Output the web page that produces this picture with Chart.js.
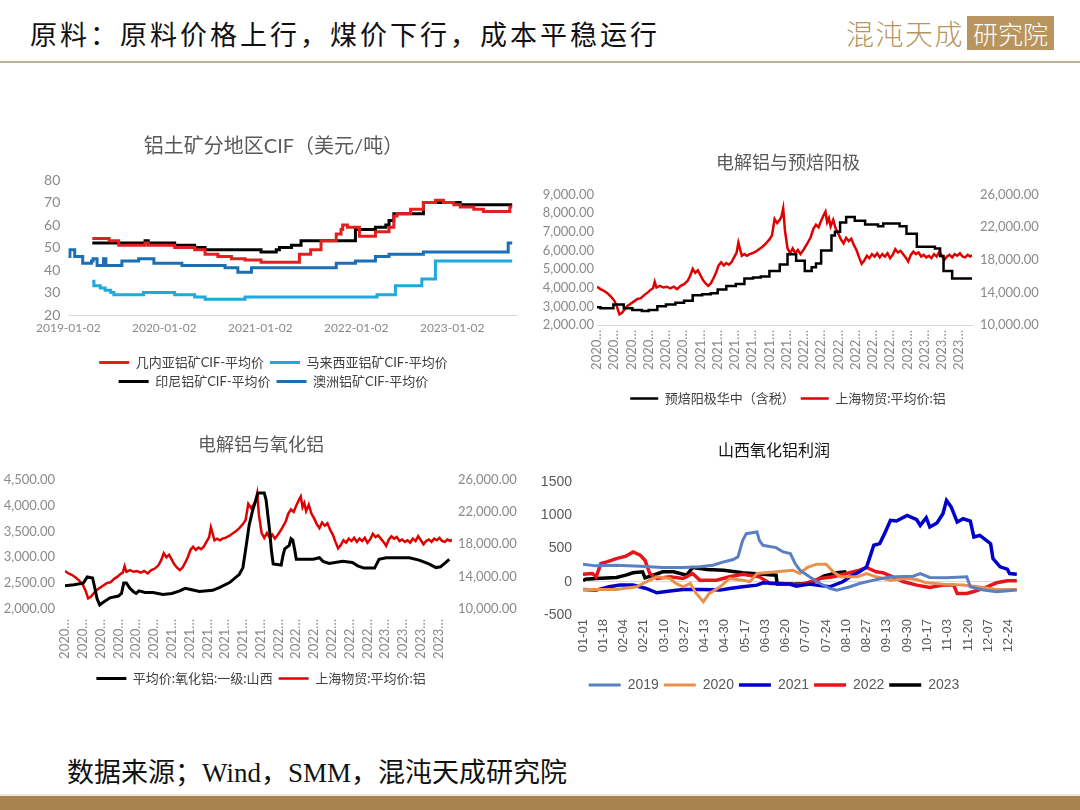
<!DOCTYPE html>
<html>
<head>
<meta charset="utf-8">
<script src="https://cdn.jsdelivr.net/npm/chart.js@4.4.0/dist/chart.umd.min.js"></script>
<style>
  body { margin: 0; width: 1080px; height: 810px; background: #fff; position: relative; overflow: hidden; font-family: "Liberation Serif", "Noto Sans CJK SC", serif; }
  canvas { position: absolute; }
  #head { position: absolute; left: 30px; top: 17px; font-size: 27px; letter-spacing: 3px; color: #111; line-height: 38px; white-space: nowrap; }
  #logo { position: absolute; left: 846px; top: 16px; height: 34px; white-space: nowrap; }
  #lg1 { display: inline-block; color: #b8955e; font-family: "Noto Sans CJK SC"; font-size: 28px; font-weight: 300; letter-spacing: 1.5px; line-height: 34px; vertical-align: top; }
  #lg2 { display: inline-block; background: #b8955e; color: #fff; font-family: "Noto Sans CJK SC"; font-size: 25px; font-weight: 300; line-height: 34px; padding: 0 6px; margin-left: 3px; vertical-align: top; }
  #rule { position: absolute; left: 0; top: 61px; width: 1080px; height: 2px; background: #bfb29c; }
  #src { position: absolute; left: 67px; top: 755px; font-size: 27px; color: #111; line-height: 36px; white-space: nowrap; }
  #barline { position: absolute; left: 0; top: 794px; width: 1080px; height: 2px; background: #eee4d4; }
  #bar { position: absolute; left: 0; top: 796px; width: 1080px; height: 14px; background: #a8834f; }
</style>
</head>
<body>
<div id="head">原料：原料价格上行，煤价下行，成本平稳运行</div>
<div id="logo"><span id="lg1">混沌天成</span><span id="lg2">研究院</span></div>
<div id="rule"></div>

<canvas id="c1" width="500" height="270" style="left:30px;top:130px"></canvas>
<canvas id="c2" width="540" height="270" style="left:530px;top:150px"></canvas>
<canvas id="c3" width="530" height="270" style="left:0px;top:430px"></canvas>
<canvas id="c4" width="550" height="280" style="left:530px;top:430px"></canvas>

<div id="src">数据来源；Wind，SMM，混沌天成研究院</div>
<div id="barline"></div>
<div id="bar"></div>

<script>
// ---- chart 1: bauxite CIF, x = months since 2019-01 ----
var guineaM = [3, 5.1, 6.3, 9.6, 10, 13.3, 15.8, 17.1, 18.7, 20.4,
  22.1, 24.1, 28.9, 30.3, 31.6, 33.5, 34.1, 34.3, 34.9, 36.4,
  38.4, 40.1, 40.7, 41.1, 42.8, 44.4, 45.9, 46.9, 48.2, 49.0,
  50.7, 51.9, 55.2, 55.5];
var guineaV = [54, 53, 51, 52, 51, 50, 49, 47, 46, 45,
  44.5, 43.5, 47, 49, 53, 56, 58, 60, 59, 55,
  57, 59, 64, 65, 67, 70, 71, 70, 69, 68,
  67, 66, 68, 68];
var malayM = [3.0, 3.2, 4.0, 4.6, 5.3, 5.7, 9.4, 13.3, 15.8, 17.1, 22.1, 38.6, 40.9, 44.2, 45.9, 55.5];
var malayV = [35, 33, 32, 31, 30, 29, 30, 29, 28, 27, 28, 29, 33, 36, 44, 44];
var indoM = [3, 9.6, 10, 13.3, 15.8, 17.1, 24.1, 26.0, 26.4, 27.9, 29.1, 35.9, 38.4, 39.7, 40.1, 40.7, 44.4, 49.0, 55.5];
var indoV = [52, 53, 52, 51, 50, 49, 48, 49, 50, 51, 53, 58, 59, 60, 62, 65, 70, 69, 69];
var ausM = [0, 0.2, 0.8, 1.8, 2.9, 3.1, 3.6, 4.4, 4.7, 6.7, 8.8, 10.7, 14.2, 19.6, 21.2, 22.9, 33.5, 35.9, 38.4, 40.1, 44.4, 55.0, 55.5];
var ausV = [46, 49, 46, 43, 44, 45, 42, 45, 42, 44, 45, 43, 42, 41, 39, 41, 43, 44, 46, 47, 48, 52, 52];

// ---- charts 2 & 3, x = months since 2020-01 ----
var alMonth = [0, 0.4, 0.8, 1.2, 1.6, 2.0, 2.3, 2.6, 2.9, 3.2,
  3.5, 3.9, 4.3, 4.7, 5.1, 5.5, 5.9, 6.2, 6.5, 6.7,
  6.9, 7.3, 7.7, 8.1, 8.5, 8.9, 9.3, 9.7, 10.1, 10.5,
  10.8, 11.1, 11.4, 11.7, 12.0, 12.3, 12.6, 12.9, 13.2, 13.5,
  13.8, 14.1, 14.4, 14.7, 15.0, 15.3, 15.6, 15.9, 16.2, 16.4,
  16.6, 16.8, 17.1, 17.4, 17.7, 18.0, 18.4, 18.8, 19.2, 19.6,
  20.0, 20.3, 20.6, 20.9, 21.2, 21.4, 21.6, 21.8, 22.1, 22.4,
  22.7, 23.0, 23.3, 23.6, 24.0, 24.4, 24.8, 25.1, 25.4, 25.7,
  26.0, 26.3, 26.5, 26.7, 26.9, 27.1, 27.4, 27.7, 28.0, 28.3,
  28.6, 28.9, 29.2, 29.5, 29.8, 30.1, 30.4, 30.7, 31.0, 31.3,
  31.6, 31.9, 32.2, 32.5, 32.8, 33.1, 33.4, 33.7, 34.0, 34.3,
  34.6, 34.9, 35.2, 35.5, 35.8, 36.1, 36.4, 36.7, 37.0, 37.3,
  37.6, 37.9, 38.2, 38.5, 38.8, 39.1, 39.4, 39.7, 40.0, 40.3,
  40.6, 40.9, 41.2, 41.5, 41.8, 42.1, 42.4, 42.7, 43.0, 43.3,
  43.5];
var alPrice = [14700, 14400, 14200, 13900, 13500, 13000, 12300, 11300, 11500, 11900,
  12300, 12600, 12900, 13200, 13300, 13700, 14000, 14300, 14500, 15300,
  14600, 14800, 14600, 14700, 14500, 14700, 14400, 14800, 15000, 15400,
  16000, 16900, 16400, 16700, 16100, 15500, 15100, 14800, 15100, 15700,
  16400, 17300, 17700, 17300, 17600, 17400, 17700, 18300, 18900, 20100,
  19300, 18500, 18700, 18500, 18700, 18800, 19000, 19300, 19600, 20000,
  20500, 21000, 23000, 22500, 22900, 23300, 24300, 21600, 19400, 18800,
  19400, 18800, 19200, 18700, 19300, 20000, 20800, 21800, 22300, 22000,
  22800, 23500, 23900, 22600, 23100, 22100, 22900, 21800, 21200, 20500,
  20000, 20700, 20300, 20600, 19800, 19200, 18300, 17500, 17900, 18500,
  18200, 18700, 18400, 18800, 18300, 18700, 18400, 18800, 18200, 18600,
  19300, 18900, 19100, 18700, 18300, 17800, 18600, 19000, 18700, 18900,
  18400, 18600, 18300, 18500, 18200, 18700, 18400, 19000, 18500, 18000,
  18400, 18600, 18300, 18700, 18500, 18800, 18400, 18300, 18600, 18400,
  18600];

var anodeM = [0, 0.4, 1.9, 3.1, 4.1, 5.2, 6.0, 7.0, 8.0, 9.1,
  10.1, 11.1, 12.2, 13.2, 14.0, 15.0, 16.1, 17.1, 18.1, 19.0,
  20.0, 21.2, 22.1, 23.1, 24.1, 24.9, 25.4, 26.0, 27.2, 27.6,
  28.2, 28.9, 29.9, 31.1, 32.6, 33.2, 35.1, 35.9, 37.1, 39.2,
  39.8, 40.2, 41.2, 43.5];
var anodeV = [2950, 2900, 3100, 2900, 2800, 2750, 2800, 3000, 3100, 3200,
  3300, 3600, 3650, 3700, 3900, 4100, 4200, 4500, 4550, 4600,
  4900, 5250, 5800, 5450, 4900, 5100, 5300, 6000, 6800, 7000,
  7500, 7800, 7600, 7400, 7300, 7450, 7300, 6900, 6200, 6100,
  5700, 4900, 4500, 4500];

var oxideM = [0, 1.0, 2.06, 2.5, 3.1, 3.36, 3.6, 3.9, 4.3, 5.05,
  6.0, 6.35, 6.6, 6.9, 7.3, 7.7, 8.0, 8.3, 9.0, 9.9,
  11.0, 12.0, 12.9, 13.5, 14.0, 15.1, 16.6, 17.4, 18.5, 19.6,
  20.0, 20.4, 20.7, 21.1, 21.7, 22.4, 22.6, 23.0, 23.2, 23.4,
  24.3, 24.5, 24.7, 25.2, 25.4, 25.6, 25.8, 26.0, 27.9, 28.6,
  29.0, 29.7, 31.2, 32.3, 32.9, 33.6, 34.8, 35.3, 36.1, 38.7,
  39.8, 40.9, 41.7, 42.2, 42.8, 43.2];
var oxideV = [2450, 2470, 2500, 2620, 2600, 2400, 2200, 2080, 2130, 2215,
  2250, 2300, 2500, 2500, 2400, 2330, 2300, 2350, 2320, 2320,
  2280, 2300, 2350, 2400, 2380, 2340, 2360, 2420, 2510, 2670,
  2800, 3260, 3620, 3910, 4240, 4240, 4110, 3520, 3130, 2870,
  2850, 3030, 3160, 3230, 3360, 3330, 3160, 2960, 2960, 2990,
  2920, 2880, 2920, 2900, 2835, 2790, 2790, 2960, 2990, 2990,
  2945, 2870, 2800, 2815, 2900, 2960];

// ---- chart 4: Shanxi alumina profit, x = day of year ----
var d2019 = [0, 11, 28, 48, 67, 84, 98, 109, 118, 126, 130, 134, 137, 146, 148, 151, 162, 168, 174, 178,
  182, 190, 199, 207, 213, 224, 232, 244, 255, 263, 277, 283, 291, 305, 322, 325, 336, 347, 364];
var p2019 = [265, 240, 250, 235, 215, 215, 225, 250, 300, 335, 375, 625, 725, 750, 625, 550, 515, 450, 425, 275,
  175, 75, -25, -100, -125, -75, -25, 25, 65, 75, 85, 125, 65, 60, 75, -75, -125, -150, -125];
var d2020 = [0, 28, 45, 53, 62, 73, 78, 84, 90, 95, 101, 106, 115, 123, 134, 140, 146, 162, 176, 182,
  188, 196, 204, 210, 216, 230, 238, 246, 258, 272, 280, 288, 302, 319, 336, 347, 364];
var p2020 = [-115, -115, -75, 0, 75, 50, -25, -75, -25, -175, -300, -175, -75, 50, 25, 0, 125, 150, 175, 125,
  215, 265, 265, 150, 75, 75, 125, 75, 25, 50, 35, -15, -35, -50, -85, -115, -115];
var d2021 = [0, 11, 22, 31, 42, 53, 62, 73, 84, 101, 115, 123, 134, 146, 151, 162, 174, 179, 190, 196,
  207, 218, 224, 232, 238, 244, 249, 253, 258, 263, 272, 280, 283, 288, 291, 297, 302, 305, 309, 314,
  319, 325, 328, 333, 342, 344, 350, 356, 358, 364];
var p2021 = [-115, -125, -75, -50, -50, -100, -165, -140, -115, -115, -125, -100, -75, -50, -15, -25, -35, -65, -35, -50,
  -75, 0, 75, 150, 225, 550, 575, 725, 925, 915, 1000, 935, 850, 965, 825, 885, 1025, 1225, 1125, 900,
  950, 915, 675, 700, 575, 350, 225, 190, 125, 115];
var d2022 = [0, 8, 11, 15, 20, 28, 36, 42, 48, 52, 56, 62, 73, 84, 92, 98, 112, 123, 134, 148,
  157, 168, 179, 188, 199, 210, 221, 232, 238, 246, 252, 260, 269, 280, 291, 302, 311, 314, 322, 330,
  339, 347, 356, 364];
var p2022 = [115, 125, 75, 275, 300, 350, 385, 450, 400, 325, 125, 50, 75, 50, 125, 25, 25, 75, 115, 75,
  -25, -25, -50, -15, 50, 75, 125, 175, 215, 150, 135, 75, 0, -50, -85, -50, -50, -175, -175, -135,
  -75, -15, 15, 15];
var d2023 = [0, 2, 11, 28, 36, 42, 50, 52, 59, 67, 76, 87, 92, 104, 118, 134, 151, 162, 163, 176, 188, 196, 202, 213, 221];
var p2023 = [15, 40, 50, 65, 100, 135, 150, 60, 100, 150, 150, 100, 215, 185, 175, 135, 115, 100, -35, -35, -25, 25, 85, 135, 150];

Chart.defaults.animation = false;
Chart.defaults.responsive = false;
Chart.defaults.devicePixelRatio = 1;
Chart.defaults.font.family = 'Lato, "Noto Sans CJK SC", sans-serif';
Chart.defaults.color = '#8a8a8a';
Chart.defaults.elements.point.radius = 0;
Chart.defaults.elements.line.tension = 0;
Chart.defaults.plugins.tooltip.enabled = false;

function pts(xs, ys) {
  return xs.map(function (x, i) { return { x: x, y: ys[i] }; });
}

function money(v) {
  return Number(v).toLocaleString('en-US', { minimumFractionDigits: 2, maximumFractionDigits: 2 });
}

function noGrid() {
  return { display: false, drawTicks: false };
}

function lineLegend(size, pad, width, color, family) {
  return {
    position: 'bottom',
    labels: {
      usePointStyle: true,
      pointStyle: 'line',
      pointStyleWidth: width,
      color: color,
      padding: pad,
      font: { size: size, family: family }
    }
  };
}

// chart 1
new Chart(document.getElementById('c1'), {
  type: 'line',
  data: {
    datasets: [
      { label: '几内亚铝矿CIF-平均价', data: pts(guineaM, guineaV), borderColor: '#e3201f', backgroundColor: '#e3201f', borderWidth: 3, stepped: true },
      { label: '马来西亚铝矿CIF-平均价', data: pts(malayM, malayV), borderColor: '#1fa9dc', backgroundColor: '#1fa9dc', borderWidth: 3, stepped: true },
      { label: '印尼铝矿CIF-平均价', data: pts(indoM, indoV), borderColor: '#000000', backgroundColor: '#000000', borderWidth: 3, stepped: true },
      { label: '澳洲铝矿CIF-平均价', data: pts(ausM, ausV), borderColor: '#1a6fb5', backgroundColor: '#1a6fb5', borderWidth: 3, stepped: true }
    ]
  },
  options: {
    layout: { padding: { left: 0, right: 13, top: 0, bottom: 2 } },
    plugins: {
      title: { display: true, text: '铝土矿分地区CIF（美元/吨）', color: '#595959', font: { size: 20, weight: 'normal' }, padding: { top: 5, bottom: 21 } },
      legend: lineLegend(13, 6, 30, '#404040')
    },
    scales: {
      x: {
        type: 'linear', min: 0, max: 56.1,
        grid: noGrid(),
        border: { color: '#d9d9d9' },
        ticks: { stepSize: 12, includeBounds: false, autoSkip: false, maxRotation: 0, padding: 6, font: { size: 12 },
          callback: function (v) { return (2019 + Math.round(v / 12)) + '-01-02'; } },
        afterFit: function (s) { s.height = 35; }
      },
      y: {
        min: 20, max: 80,
        grid: noGrid(),
        border: { display: false },
        ticks: { stepSize: 10, padding: 8, font: { size: 14 } },
        afterFit: function (s) { s.width = 36; }
      }
    }
  }
});

// chart 2
new Chart(document.getElementById('c2'), {
  type: 'line',
  data: {
    datasets: [
      { label: '预焙阳极华中（含税）', data: pts(anodeM, anodeV), borderColor: '#000000', backgroundColor: '#000000', borderWidth: 2.5, stepped: true, yAxisID: 'y' },
      { label: '上海物贸:平均价:铝', data: pts(alMonth, alPrice), borderColor: '#e00000', backgroundColor: '#e00000', borderWidth: 2.5, yAxisID: 'y1' }
    ]
  },
  options: {
    layout: { padding: { left: 0, right: 24, top: 0, bottom: 5 } },
    plugins: {
      title: { display: true, text: '电解铝与预焙阳极', color: '#595959', font: { size: 18, weight: 'normal' }, padding: { top: 2, bottom: 21 } },
      legend: lineLegend(13, 6, 28, '#404040')
    },
    scales: {
      x: {
        type: 'linear', min: 0, max: 43.5,
        grid: noGrid(),
        border: { color: '#d9d9d9' },
        ticks: { stepSize: 2, includeBounds: false, autoSkip: false, minRotation: 90, maxRotation: 90, padding: 5, font: { size: 13 },
          callback: function (v) { return (2020 + Math.floor(v / 12 + 0.0001)) + '…'; } },
        afterFit: function (s) { s.height = 61; }
      },
      y: {
        position: 'left', min: 2000, max: 9000,
        grid: noGrid(), border: { display: false },
        ticks: { stepSize: 1000, padding: 3, font: { size: 13 }, callback: money },
        afterFit: function (s) { s.width = 67; }
      },
      y1: {
        position: 'right', min: 10000, max: 26000,
        grid: noGrid(), border: { display: false },
        ticks: { stepSize: 2000, padding: 8, font: { size: 13 }, callback: money },
        afterFit: function (s) { s.width = 74; }
      }
    }
  }
});

// chart 3
new Chart(document.getElementById('c3'), {
  type: 'line',
  data: {
    datasets: [
      { label: '平均价:氧化铝:一级:山西', data: pts(oxideM, oxideV), borderColor: '#000000', backgroundColor: '#000000', borderWidth: 3, yAxisID: 'y' },
      { label: '上海物贸:平均价:铝', data: pts(alMonth, alPrice), borderColor: '#e00000', backgroundColor: '#e00000', borderWidth: 2.5, yAxisID: 'y1' }
    ]
  },
  options: {
    layout: { padding: { left: 0, right: 8, top: 0, bottom: 5 } },
    plugins: {
      title: { display: true, text: '电解铝与氧化铝', color: '#595959', font: { size: 18, weight: 'normal' }, padding: { top: 4, bottom: 24 } },
      legend: lineLegend(13, 6, 30, '#404040')
    },
    scales: {
      x: {
        type: 'linear', min: 0, max: 43.5,
        grid: noGrid(),
        border: { display: false },
        ticks: { stepSize: 2, includeBounds: false, autoSkip: false, minRotation: 90, maxRotation: 90, padding: 10, font: { size: 13 },
          callback: function (v) { return (2020 + Math.floor(v / 12 + 0.0001)) + '…'; } },
        afterFit: function (s) { s.height = 57; }
      },
      y: {
        position: 'left', min: 2000, max: 4500,
        grid: noGrid(), border: { display: false },
        ticks: { stepSize: 500, padding: 10, font: { size: 13 }, callback: money },
        afterFit: function (s) { s.width = 65; }
      },
      y1: {
        position: 'right', min: 10000, max: 26000,
        grid: noGrid(), border: { display: false },
        ticks: { stepSize: 2000, padding: 6, font: { size: 13 }, callback: money },
        afterFit: function (s) { s.width = 70; }
      }
    }
  }
});

// chart 4
function dayLabel(v) {
  var d = new Date(Date.UTC(2019, 0, 1 + v));
  var mm = String(d.getUTCMonth() + 1).padStart(2, '0');
  var dd = String(d.getUTCDate()).padStart(2, '0');
  return mm + '-' + dd;
}

new Chart(document.getElementById('c4'), {
  type: 'line',
  data: {
    datasets: [
      { label: '2019', data: pts(d2019, p2019), borderColor: '#5a7fc2', backgroundColor: '#5a7fc2', borderWidth: 3 },
      { label: '2020', data: pts(d2020, p2020), borderColor: '#e8914c', backgroundColor: '#e8914c', borderWidth: 3 },
      { label: '2021', data: pts(d2021, p2021), borderColor: '#0000cc', backgroundColor: '#0000cc', borderWidth: 3.5 },
      { label: '2022', data: pts(d2022, p2022), borderColor: '#e8141a', backgroundColor: '#e8141a', borderWidth: 3.5 },
      { label: '2023', data: pts(d2023, p2023), borderColor: '#000000', backgroundColor: '#000000', borderWidth: 3.5 }
    ]
  },
  options: {
    layout: { padding: { left: 0, right: 62, top: 0, bottom: 8 } },
    plugins: {
      title: { display: true, text: '山西氧化铝利润', color: '#111', font: { size: 16, weight: 'normal', family: '"Noto Sans CJK SC"' }, padding: { top: 10, bottom: 23 } },
      legend: lineLegend(14, 5, 32, '#595959', '"Liberation Sans", Arial, sans-serif')
    },
    scales: {
      x: {
        type: 'linear', min: 0, max: 365,
        grid: noGrid(),
        border: { display: false },
        ticks: { stepSize: 17, includeBounds: false, autoSkip: false, minRotation: 90, maxRotation: 90, padding: 4, color: '#595959',
          font: { size: 13, family: '"Liberation Sans", Arial, sans-serif' }, callback: dayLabel },
        afterFit: function (s) { s.height = 58; }
      },
      y: {
        min: -500, max: 1500,
        border: { display: false },
        grid: { drawTicks: false, color: function (c) { return c.tick && c.tick.value === 0 ? '#d9d9d9' : 'rgba(0,0,0,0)'; } },
        ticks: { stepSize: 500, padding: 11, color: '#595959', font: { size: 14, family: '"Liberation Sans", Arial, sans-serif' },
          callback: function (v) { return String(v); } },
        afterFit: function (s) { s.width = 53; }
      }
    }
  }
});
</script>
</body>
</html>
